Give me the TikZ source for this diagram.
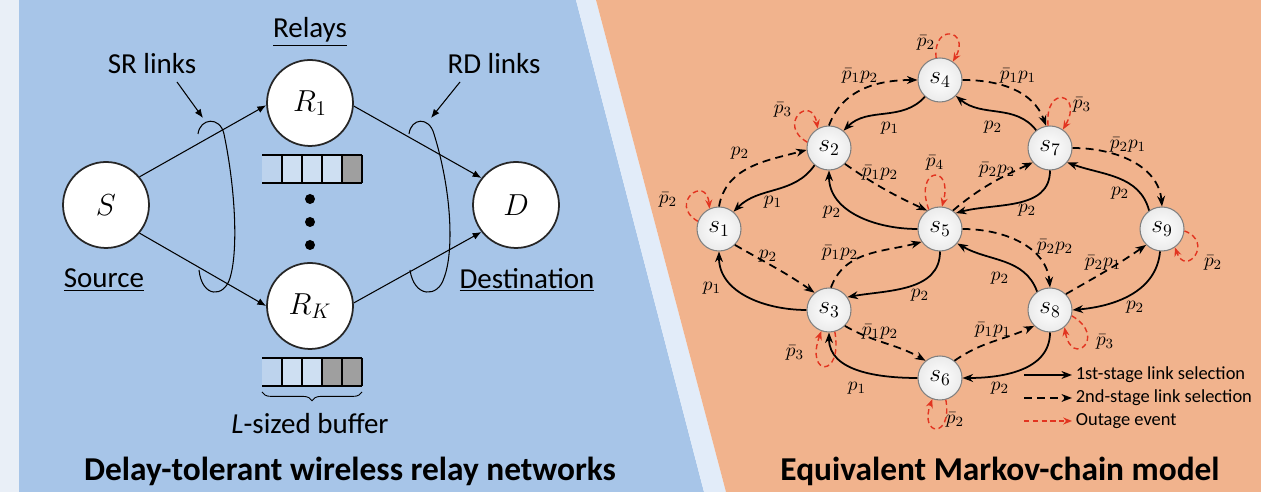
\documentclass[tikz,border=0pt]{standalone}
\usepackage{fontspec}
\setmainfont{Carlito}
\usetikzlibrary{arrows.meta,decorations.pathreplacing}

\definecolor{bgblue}{RGB}{167,197,232}
\definecolor{bgorange}{RGB}{241,179,141}
\definecolor{bgstrip}{RGB}{233,239,247}
\definecolor{bgband}{RGB}{226,236,249}
\definecolor{outred}{RGB}{226,52,32}

\begin{document}
\begin{tikzpicture}[x=0.02cm, y=0.02cm, >=Stealth,
   relay/.style={circle, draw=black!85, line width=1pt, fill=white,
                 minimum size=1.72cm, inner sep=0pt, font=\fontsize{17}{17}\selectfont},
   state/.style={circle, draw=black!50, line width=0.6pt, inner color=white,
                 outer color=black!8, minimum size=0.88cm, inner sep=0pt,
                 font=\fontsize{14}{14}\selectfont},
   txt/.style={font=\fontsize{16.5}{18}\selectfont},
   ttl/.style={font=\fontsize{19}{21}\selectfont\bfseries},
   lbl/.style={font=\fontsize{11}{12}\selectfont, inner sep=0.5pt},
   legtxt/.style={font=\fontsize{10.5}{12}\selectfont, anchor=west, inner sep=2pt},
   link/.style={-{Latex[length=5pt,width=4pt]}, line width=0.6pt},
   lasso/.style={line width=0.6pt},
   first/.style={-{Stealth[length=6pt,width=4.5pt]}, line width=1pt},
   second/.style={first, dash pattern=on 4.5pt off 3pt},
   outage/.style={-{Stealth[length=5pt,width=4pt]}, outred, line width=0.8pt,
                  dash pattern=on 3pt off 2pt}]

   \useasboundingbox (0,0) rectangle (1261,492);
   \clip (0,0) rectangle (1261,492);

   % backgrounds
   \fill[bgstrip] (0,0) rectangle (19,492);
   \fill[bgblue] (19,0) -- (19,492) -- (576,492) -- (704,0) -- cycle;
   \fill[bgband] (576,492) -- (596,492) -- (726,0) -- (704,0) -- cycle;
   \fill[bgorange] (596,492) -- (1261,492) -- (1261,0) -- (726,0) -- cycle;

   % relay network
   \node[relay] (S) at (106,287) {$S$};
   \node[relay] (R1) at (310,389) {$R_1$};
   \node[relay] (RK) at (310,186) {$R_K$};
   \node[relay] (D) at (516,287) {$D$};

   \draw[link] (S.40) -- (R1.183);
   \draw[link] (S.-40) -- (RK.180);
   \draw[link] (R1.-4) -- (D.142);
   \draw[link] (RK.4) -- (D.218);

   \node[txt] (relays) at (310,460) {\underline{Relays}};
   \node[txt] (srlab) at (152,428) {SR links};
   \node[txt] (rdlab) at (494,428) {RD links};
   \node[txt] (src) at (104,212) {\underline{Source}};
   \node[txt] (dst) at (527,212) {\underline{Destination}};
   \node[txt] (lbuf) at (310,68) {\textit{L}-sized buffer};

   \coordinate (srtail) at (177,410);
   \coordinate (srtip) at (203,374);
   \coordinate (rdtail) at (460,410);
   \coordinate (rdtip) at (431,374);
   \draw[link] (srtail) -- (srtip);
   \draw[link] (rdtail) -- (rdtip);

   \draw[lasso] (198,358) .. controls (200,374) and (220,376) .. (224,358)
                .. controls (236,300) and (238,240) .. (230,214)
                .. controls (224,194) and (202,194) .. (199,222);
   \draw[lasso] (409,358) .. controls (411,374) and (429,376) .. (434,358)
                .. controls (452,300) and (454,240) .. (444,214)
                .. controls (438,194) and (414,194) .. (410,222);

   % buffers
   \fill[white, opacity=0.25] (262,309) rectangle (282,337);
   \fill[white, opacity=0.45] (282,309) rectangle (342,337);
   \fill[gray!75] (342,309) rectangle (362,337);
   \draw[thick] (262,337) -- (362,337) (262,309) -- (362,309);
   \foreach \x in {282,302,322,342,362} \draw[thick] (\x,309) -- (\x,337);

   \fill[white, opacity=0.25] (262,106) rectangle (282,134);
   \fill[white, opacity=0.45] (282,106) rectangle (322,134);
   \fill[gray!75] (322,106) rectangle (362,134);
   \draw[thick] (262,134) -- (362,134) (262,106) -- (362,106);
   \foreach \x in {282,302,322,342,362} \draw[thick] (\x,106) -- (\x,134);

   \fill (310,293) circle (0.1cm);
   \fill (310,270) circle (0.1cm);
   \fill (310,247) circle (0.1cm);

   \draw[decorate, decoration={brace, amplitude=5pt}, line width=0.5pt]
        (362,100) -- (262,100);

   % Markov chain
   \node[state] (s4) at (940,412) {$s_4$};
   \node[state] (s2) at (829,344) {$s_2$};
   \node[state] (s7) at (1050,344) {$s_7$};
   \node[state] (s1) at (719,263) {$s_1$};
   \node[state] (s5) at (940,263) {$s_5$};
   \node[state] (s9) at (1162,263) {$s_9$};
   \node[state] (s3) at (829,182) {$s_3$};
   \node[state] (s8) at (1050,182) {$s_8$};
   \node[state] (s6) at (940,114) {$s_6$};

   % 1st-stage
   \draw[first] (s4.228) to[out=228, in=45] (s2.50);
   \draw[first] (s7.128) to[out=128, in=-40] (s4.-45);
   \draw[first] (s2.230) to[out=235, in=45] (s1.50);
   \draw[first] (s5.180) to[out=180, in=-90] (s2.-90);
   \draw[first] (s7.-90) to[out=-90, in=15] (s5.45);
   \draw[first] (s3.180) to[out=180, in=-90] (s1.-90);
   \draw[first] (s5.-90) to[out=-90, in=10] (s3.35);
   \draw[first] (s6.180) to[out=180, in=-90] (s3.-90);
   \draw[first] (s8.-90) to[out=-90, in=0] (s6.0);
   \draw[first] (s8.125) to[out=110, in=-30] (s5.-40);
   \draw[first] (s9.125) to[out=105, in=-20] (s7.-40);
   \draw[first] (s9.-95) to[out=-95, in=5] (s8.0);

   % 2nd-stage
   \draw[second] (s2.90) to[out=70, in=180] (s4.180);
   \draw[second] (s4.0) to[out=0, in=110] (s7.100);
   \draw[second] (s1.90) to[out=80, in=195] (s2.185);
   \draw[second] (s2.-45) to[out=-35, in=155] (s5.125);
   \draw[second] (s5.55) to[out=40, in=205] (s7.220);
   \draw[second] (s7.0) to[out=0, in=95] (s9.90);
   \draw[second] (s1.-45) to[out=-30, in=145] (s3.130);
   \draw[second] (s3.85) to[out=70, in=195] (s5.215);
   \draw[second] (s5.0) to[out=0, in=95] (s8.90);
   \draw[second] (s3.-45) to[out=-30, in=150] (s6.130);
   \draw[second] (s6.50) to[out=35, in=205] (s8.225);
   \draw[second] (s8.45) to[out=30, in=215] (s9.225);

   % outage loops
   \draw[outage] (s4.100) .. controls +(95:36) and +(60:36) .. (s4.55);
   \draw[outage] (s2.165) .. controls +(150:36) and +(100:36) .. (s2.120);
   \draw[outage] (s1.160) .. controls +(150:35) and +(95:35) .. (s1.115);
   \draw[outage] (s5.120) .. controls +(110:45) and +(75:45) .. (s5.85);
   \draw[outage] (s7.95) .. controls +(95:42) and +(60:42) .. (s7.55);
   \draw[outage] (s9.-5) .. controls +(-20:32) and +(-70:32) .. (s9.-55);
   \draw[outage] (s3.-75) .. controls +(-80:48) and +(-110:48) .. (s3.-110);
   \draw[outage] (s6.-75) .. controls +(-80:40) and +(-110:40) .. (s6.-110);
   \draw[outage] (s8.-15) .. controls +(-30:42) and +(-80:42) .. (s8.-50);

   % labels
   \node[lbl] (l1) at (890,364) {$p_1$};
   \node[lbl] (l2) at (993,365) {$p_2$};
   \node[lbl] (l3) at (773,290) {$p_1$};
   \node[lbl] (l4) at (832,280) {$p_2$};
   \node[lbl] (l5) at (1027,282) {$p_2$};
   \node[lbl] (l6) at (712,204) {$p_1$};
   \node[lbl] (l7) at (920,197) {$p_2$};
   \node[lbl] (l8) at (857,104) {$p_1$};
   \node[lbl] (l9) at (1000,104) {$p_2$};
   \node[lbl] (l10) at (1000,214) {$p_2$};
   \node[lbl] (l11) at (1120,299) {$p_2$};
   \node[lbl] (l12) at (1135,185) {$p_2$};

   \node[lbl] (m1) at (860,416) {$\bar p_1p_2$};
   \node[lbl] (m2) at (1018,416) {$\bar p_1p_1$};
   \node[lbl] (m3) at (740,339) {$p_2$};
   \node[lbl] (m4) at (880,319) {$\bar p_1p_2$};
   \node[lbl] (m5) at (997,322) {$\bar p_2p_2$};
   \node[lbl] (m6) at (1128,347) {$\bar p_2p_1$};
   \node[lbl] (m7) at (768,236) {$p_2$};
   \node[lbl] (m8) at (840,239) {$\bar p_1p_2$};
   \node[lbl] (m9) at (1055,245) {$\bar p_2p_2$};
   \node[lbl] (m10) at (880,160) {$\bar p_1p_2$};
   \node[lbl] (m11) at (993,162) {$\bar p_1p_1$};
   \node[lbl] (m12) at (1103,229) {$\bar p_2p_1$};

   \node[lbl] (o4) at (926,449) {$\bar p_2$};
   \node[lbl] (o2) at (783,382) {$\bar p_3$};
   \node[lbl] (o1) at (668,292) {$\bar p_2$};
   \node[lbl] (o5) at (935,329) {$\bar p_4$};
   \node[lbl] (o7) at (1082,387) {$\bar p_3$};
   \node[lbl] (o9) at (1213,229) {$\bar p_2$};
   \node[lbl] (o3) at (795,139) {$\bar p_3$};
   \node[lbl] (o6) at (955,72) {$\bar p_2$};
   \node[lbl] (o8) at (1105,150) {$\bar p_3$};

   % legend
   \coordinate (lg1a) at (1024,117);
   \coordinate (lg1b) at (1072,117);
   \coordinate (lg2a) at (1024,94);
   \coordinate (lg2b) at (1072,94);
   \coordinate (lg3a) at (1024,71);
   \coordinate (lg3b) at (1072,71);
   \draw[first] (lg1a) -- (lg1b);
   \draw[second] (lg2a) -- (lg2b);
   \draw[outage] (lg3a) -- (lg3b);
   \node[legtxt] (lg1) at (lg1b) {1st-stage link selection};
   \node[legtxt] (lg2) at (lg2b) {2nd-stage link selection};
   \node[legtxt] (lg3) at (lg3b) {Outage event};

   % titles
   \node[ttl] (t1) at (350,21) {Delay-tolerant wireless relay networks};
   \node[ttl] (t2) at (1000,21) {Equivalent Markov-chain model};

\end{tikzpicture}
\end{document}
